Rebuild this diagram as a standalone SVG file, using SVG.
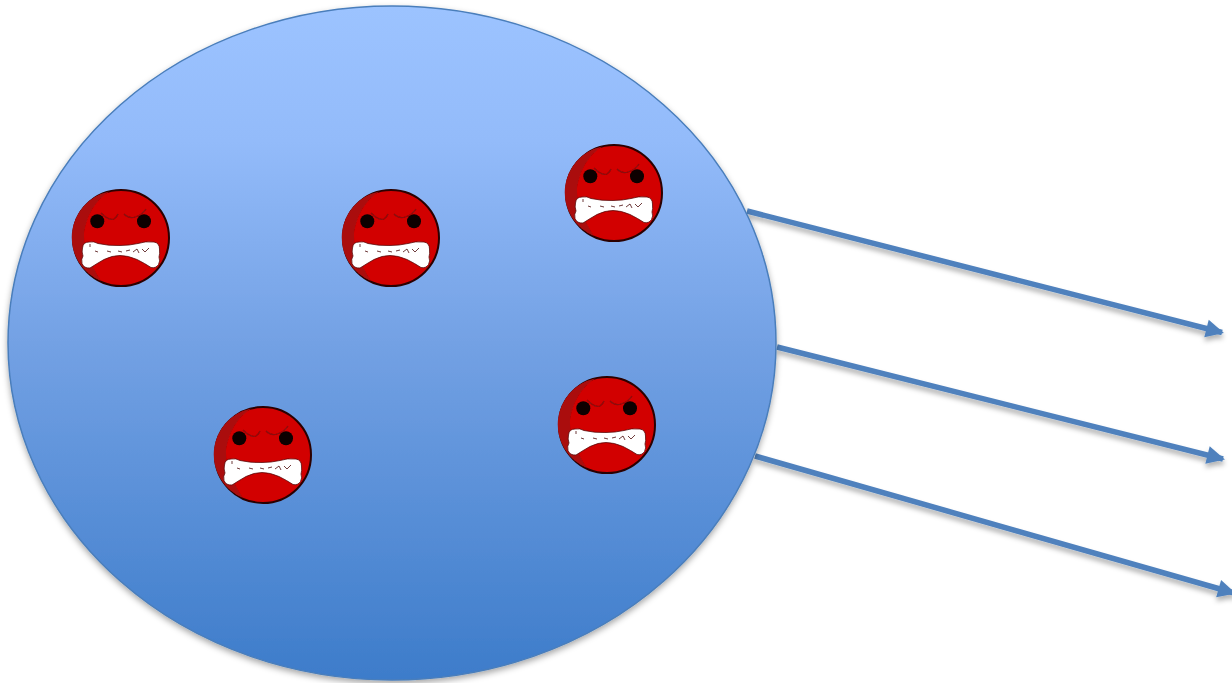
<svg xmlns="http://www.w3.org/2000/svg" width="1232" height="683" viewBox="0 0 1232 683">
<style>
.conn{fill:none;stroke:#4f81bd;stroke-width:5.500;marker-end:url(#head)}
.outline{fill:#d20000;stroke:#2a0505;stroke-width:2}
.crescent{fill:#aa0a0a}
.eye{fill:#0a0000}
.brow{fill:none;stroke:#8a0a0a;stroke-width:1.300}
.teeth{fill:#fff;stroke:#5a0a0a;stroke-width:0.800}
.crack{fill:none;stroke:#4a0a0a;stroke-width:0.800}
</style>
<defs>
<linearGradient id="blue" x1="0" y1="0" x2="0" y2="1">
<stop offset="0" stop-color="#9cc3ff"/>
<stop offset="0.2" stop-color="#93bbfa"/>
<stop offset="0.5" stop-color="#73a1e4"/>
<stop offset="1" stop-color="#3d7cca"/>
</linearGradient>
<filter id="shadow" x="-5%" y="-5%" width="110%" height="112%">
<feDropShadow dx="0" dy="3" stdDeviation="3" flood-color="#000" flood-opacity="0.35"/>
</filter>
<filter id="lineshadow" x="-5%" y="-10%" width="110%" height="125%">
<feDropShadow dx="0" dy="4" stdDeviation="2.500" flood-color="#000" flood-opacity="0.3"/>
</filter>
<filter id="soft" x="-5%" y="-5%" width="110%" height="110%">
<feGaussianBlur stdDeviation="0.500"/>
</filter>
<marker id="head" markerUnits="userSpaceOnUse" markerWidth="22" markerHeight="22" refX="16" refY="9" orient="auto" overflow="visible">
<path d="M0 0L18 9L0 18z" fill="#4f81bd"/>
</marker>
<g id="face" filter="url(#soft)">
<circle class="outline" r="48"/>
<path class="crescent" d="M-12-46.500A47 47 0 0 0-20 43Q-38 15-37-5Q-33-32-12-46.500z"/>
<circle class="eye" cx="-23.700" cy="-16.700" r="7"/>
<circle class="eye" cx="23" cy="-16.700" r="7"/>
<path class="brow" d="M-20-25Q-12-17-7-19Q-4-21-3-24"/>
<path class="brow" d="M3-24Q8-19 14-21Q21-23 25-29"/>
<path class="teeth" d="M-38.500 10Q-38 4-32 4Q-27 3-23 5.500Q-12 8-1 7.500Q8 7.500 17 5.500Q24 3 33 4Q38.500 5 38.500 11Q39 16 38 19Q39.500 23 37.500 26.500Q35 30.500 30 29.500Q24 25.500 16 21.500Q7 17.500-1 17.500Q-9 17.500-17 21.500Q-24 25.500-31 30Q-37 30.500-39 25.500Q-40 21-38 18Q-39.500 14-38.500 10z"/>
<path class="crack" d="M-31 6V9M-26 13L-23 14M-14 13L-10 14M-3 13L1 14M5 13L9 12M12 14L16 11L18 15M21 11L24 14L28 10"/>
</g>
</defs>
<g id="connectors" filter="url(#lineshadow)">
<path class="conn" d="M747 211L1222 332.500"/>
<path class="conn" d="M777 347L1223 459"/>
<path class="conn" d="M755 456L1234 593"/>
</g>
<g id="body"><ellipse cx="392" cy="343" rx="384" ry="337" fill="url(#blue)" stroke="#4a7ebb" stroke-width="1.500" filter="url(#shadow)"/></g>
<g id="face1"><use href="#face" x="121" y="238"/></g>
<g id="face2"><use href="#face" x="391" y="238"/></g>
<g id="face3"><use href="#face" x="614" y="193"/></g>
<g id="face4"><use href="#face" x="263" y="455"/></g>
<g id="face5"><use href="#face" x="607" y="425"/></g>
</svg>
